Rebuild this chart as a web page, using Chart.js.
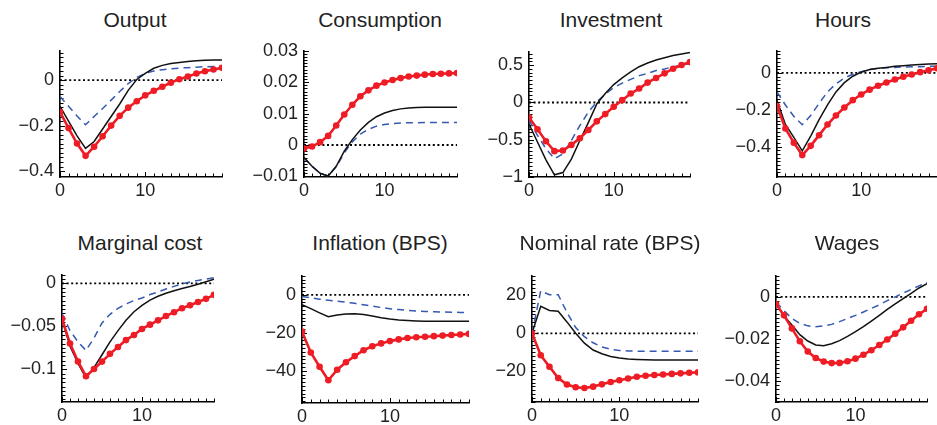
<!DOCTYPE html>
<html>
<head>
<meta charset="utf-8">
<script src="https://cdn.jsdelivr.net/npm/chart.js@4.4.1/dist/chart.umd.min.js"></script>
<style>
  body { margin: 0; background: #fff; width: 937px; height: 425px; position: relative; overflow: hidden; }
  .title { position: absolute; transform: translateX(-50%); white-space: nowrap;
           font: 21px/21px "Liberation Sans", Arial, sans-serif; color: #222; }
</style>
</head>
<body>
<script>
// periods after the shock
const periods = [0, 1, 2, 3, 4, 5, 6, 7, 8, 9, 10, 11, 12, 13, 14, 15, 16, 17, 18, 19];
const xTicks = [0, 10];

// Output
const outputSolid  = [-0.115, -0.18, -0.245, -0.30, -0.27, -0.215, -0.16, -0.105, -0.045, 0.003, 0.03, 0.052, 0.065, 0.073, 0.078, 0.082, 0.085, 0.087, 0.088, 0.089];
const outputDashed = [-0.072, -0.115, -0.158, -0.196, -0.16, -0.125, -0.088, -0.05, -0.015, 0.012, 0.03, 0.04, 0.046, 0.05, 0.053, 0.055, 0.057, 0.059, 0.06, 0.061];
const outputDots   = [-0.14, -0.211, -0.279, -0.333, -0.293, -0.247, -0.2, -0.157, -0.121, -0.093, -0.067, -0.047, -0.029, -0.011, 0.004, 0.016, 0.029, 0.039, 0.047, 0.054];
const outputTicks  = [-0.4, -0.2, 0];

// Consumption
const consumptionSolid  = [-0.004, -0.0068, -0.009, -0.0099, -0.0068, -0.002, 0.0017, 0.0048, 0.0072, 0.009, 0.0102, 0.011, 0.0115, 0.0118, 0.0119, 0.012, 0.012, 0.012, 0.012, 0.012];
const consumptionDashed = [-0.004, -0.0068, -0.009, -0.0099, -0.007, -0.0025, 0.001, 0.0035, 0.005, 0.006, 0.0065, 0.0068, 0.007, 0.0071, 0.0071, 0.0072, 0.0072, 0.0072, 0.0072, 0.0072];
const consumptionDots   = [-0.0011, -0.0005, 0.0009, 0.0029, 0.0062, 0.0097, 0.0128, 0.0155, 0.0174, 0.0189, 0.0199, 0.0207, 0.0213, 0.0218, 0.0221, 0.0224, 0.0226, 0.0227, 0.0228, 0.0229];
const consumptionTicks  = [-0.01, 0, 0.01, 0.02, 0.03];

// Investment
const investmentSolid  = [-0.29, -0.53, -0.77, -0.97, -0.94, -0.76, -0.51, -0.27, -0.02, 0.12, 0.24, 0.33, 0.41, 0.48, 0.53, 0.57, 0.6, 0.63, 0.65, 0.67];
const investmentDashed = [-0.24, -0.44, -0.62, -0.755, -0.69, -0.51, -0.31, -0.13, 0.01, 0.11, 0.2, 0.26, 0.31, 0.36, 0.39, 0.43, 0.45, 0.48, 0.5, 0.52];
const investmentDots   = [-0.2, -0.36, -0.52, -0.653, -0.644, -0.569, -0.48, -0.369, -0.253, -0.156, -0.058, 0.031, 0.12, 0.187, 0.267, 0.329, 0.391, 0.453, 0.502, 0.542];
const investmentTicks  = [-1, -0.5, 0, 0.5];

// Hours
const hoursSolid  = [-0.15, -0.28, -0.35, -0.423, -0.343, -0.254, -0.174, -0.103, -0.053, -0.018, 0.004, 0.018, 0.025, 0.03, 0.036, 0.039, 0.043, 0.046, 0.048, 0.05];
const hoursDashed = [-0.103, -0.174, -0.236, -0.281, -0.231, -0.165, -0.103, -0.059, -0.028, -0.007, 0.007, 0.018, 0.025, 0.028, 0.03, 0.032, 0.034, 0.034, 0.036, 0.036];
const hoursDots   = [-0.18, -0.302, -0.379, -0.446, -0.396, -0.338, -0.28, -0.231, -0.188, -0.148, -0.117, -0.091, -0.07, -0.052, -0.036, -0.021, -0.009, 0.004, 0.014, 0.025];
const hoursTicks  = [-0.4, -0.2, 0];

// Marginal cost
const marginalCostSolid  = [-0.042, -0.073, -0.093, -0.11, -0.098, -0.083, -0.068, -0.055, -0.043, -0.033, -0.0255, -0.0195, -0.015, -0.0115, -0.0085, -0.006, -0.0035, -0.001, 0.002, 0.005];
const marginalCostDashed = [-0.035, -0.055, -0.068, -0.078, -0.0635, -0.046, -0.036, -0.029, -0.024, -0.02, -0.017, -0.013, -0.01, -0.0065, -0.0035, -0.0005, 0.0015, 0.0035, 0.005, 0.0065];
const marginalCostDots   = [-0.041, -0.07, -0.091, -0.108, -0.0996, -0.091, -0.082, -0.074, -0.066, -0.06, -0.053, -0.048, -0.043, -0.038, -0.0335, -0.029, -0.0255, -0.0217, -0.018, -0.0133];
const marginalCostTicks  = [-0.1, -0.05, 0];

// Inflation (BPS)
const inflationSolid  = [-5.2, -7.3, -9.5, -11.6, -10.6, -10.1, -10.0, -10.4, -11.2, -12.1, -12.8, -13.3, -13.6, -13.8, -13.9, -14, -14, -14, -14, -14];
const inflationDashed = [-0.9, -1.6, -2.3, -2.9, -3.4, -3.9, -4.5, -5.3, -6, -6.7, -7.3, -7.8, -8.2, -8.5, -8.8, -9, -9.1, -9.2, -9.3, -9.4];
const inflationDots   = [-19.4, -30.4, -37.9, -45, -39.5, -35.5, -32.3, -29.2, -27.1, -25.6, -24.4, -23.5, -22.8, -22.4, -22.1, -21.8, -21.5, -21.2, -20.9, -20.6];
const inflationTicks  = [-40, -20, 0];

// Nominal rate (BPS)
const nominalRateSolid  = [0, 14.2, 12, 11.6, 6, 0, -5.2, -8.8, -10.8, -12.2, -13, -13.5, -13.8, -14, -14.1, -14.1, -14.1, -14.1, -14.1, -14.1];
const nominalRateDashed = [0, 22.4, 20.3, 20.3, 11, 3, -1.8, -5, -7.2, -8.4, -9, -9.3, -9.4, -9.5, -9.5, -9.5, -9.5, -9.5, -9.5, -9.5];
const nominalRateDots   = [0, -11.6, -17.6, -23.6, -27, -28.4, -28.8, -28.1, -26.9, -25.7, -24.7, -23.8, -22.9, -22.4, -22.0, -21.7, -21.4, -21.1, -20.8, -20.6];
const nominalRateTicks  = [-20, 0, 20];

// Wages
const wagesSolid  = [-0.0034, -0.009, -0.0134, -0.018, -0.021, -0.0229, -0.0232, -0.0223, -0.0208, -0.0188, -0.0165, -0.0142, -0.0115, -0.0088, -0.006, -0.0034, -0.0008, 0.0017, 0.0042, 0.0063];
const wagesDashed = [-0.0026, -0.0065, -0.0103, -0.0126, -0.0138, -0.0142, -0.0138, -0.0131, -0.0118, -0.0103, -0.0088, -0.0072, -0.0055, -0.0038, -0.0018, 0.0, 0.0018, 0.0035, 0.0052, 0.0069];
const wagesDots   = [-0.0034, -0.0088, -0.015, -0.0211, -0.026, -0.0291, -0.0308, -0.0315, -0.0314, -0.0306, -0.0294, -0.0275, -0.0254, -0.0229, -0.0203, -0.0175, -0.0145, -0.0114, -0.0083, -0.0057];
const wagesTicks  = [-0.04, -0.02, 0];

// layout: plot box of each panel in page pixels
const YW = 62, PT = 14, PR = 8, XH = 32;
const panels = [
  {title: 'Output',             tx: 135, ty: 9,   x0: 60,  x1: 222, top: 48,  bottom: 177, min: -0.426, max: 0.129, ticks: outputTicks,       minor: 0.02,  solid: outputSolid,       dashed: outputDashed,       dots: outputDots},
  {title: 'Consumption',        tx: 380, ty: 9,   x0: 304, x1: 457, top: 48,  bottom: 177, min: -0.0102, max: 0.03, ticks: consumptionTicks,  minor: 0.001, solid: consumptionSolid,  dashed: consumptionDashed,  dots: consumptionDots},
  {title: 'Investment',         tx: 611, ty: 9,   x0: 529, x1: 690, top: 49,  bottom: 177, min: -1,     max: 0.68,  ticks: investmentTicks,   minor: 0.05,  solid: investmentSolid,   dashed: investmentDashed,   dots: investmentDots},
  {title: 'Hours',              tx: 843, ty: 9,   x0: 777, x1: 937, top: 48,  bottom: 177, min: -0.565, max: 0.12,  ticks: hoursTicks,        minor: 0.02,  solid: hoursSolid,        dashed: hoursDashed,        dots: hoursDots},
  {title: 'Marginal cost',      tx: 140, ty: 232, x0: 62,  x1: 214, top: 272, bottom: 402, min: -0.138, max: 0.01,  ticks: marginalCostTicks, minor: 0.005, solid: marginalCostSolid, dashed: marginalCostDashed, dots: marginalCostDots},
  {title: 'Inflation (BPS)',    tx: 380, ty: 232, x0: 302, x1: 469, top: 273, bottom: 403, min: -57,    max: 10,    ticks: inflationTicks,    minor: 2,     solid: inflationSolid,    dashed: inflationDashed,    dots: inflationDots},
  {title: 'Nominal rate (BPS)', tx: 610, ty: 232, x0: 532, x1: 698, top: 273, bottom: 402, min: -36.2,  max: 30.3,  ticks: nominalRateTicks,  minor: 2,     solid: nominalRateSolid,  dashed: nominalRateDashed,  dots: nominalRateDots},
  {title: 'Wages',              tx: 847, ty: 232, x0: 776, x1: 927, top: 273, bottom: 402, min: -0.05,  max: 0.01,  ticks: wagesTicks,        minor: 0.002, solid: wagesSolid,        dashed: wagesDashed,        dots: wagesDots}
];

const tickFont = {family: '"Liberation Sans", Arial, sans-serif', size: 18};
const fmt = v => v === 0 ? '0' : (v < 0 ? '\u2212' : '') + Math.abs(v);

// inward minor ticks on both axes plus the dotted zero line
const axisDecor = {
  id: 'axisDecor',
  beforeDatasetsDraw(chart, args, opts) {
    const {ctx, chartArea: a, scales: {x, y}} = chart;
    ctx.save();
    ctx.strokeStyle = '#000';
    ctx.lineWidth = 1;
    ctx.beginPath();
    const k0 = Math.ceil(y.min / opts.minor - 1e-6), k1 = Math.floor(y.max / opts.minor + 1e-6);
    for (let k = k0; k <= k1; k++) {
      const v = k * opts.minor;
      const major = opts.majors.some(m => Math.abs(m - v) < opts.minor / 10);
      const py = Math.round(y.getPixelForValue(v)) + 0.5;
      ctx.moveTo(a.left, py);
      ctx.lineTo(a.left + (major ? 5 : 3.5), py);
    }
    periods.forEach(t => {
      const px = Math.round(x.getPixelForValue(t)) + 0.5;
      ctx.moveTo(px, a.bottom);
      ctx.lineTo(px, a.bottom - (xTicks.includes(t) ? 5 : 3.5));
    });
    ctx.stroke();
    // zero line
    const zy = y.getPixelForValue(0);
    ctx.setLineDash([2, 2.6]);
    ctx.lineWidth = 1.8;
    ctx.beginPath();
    ctx.moveTo(a.left, zy);
    ctx.lineTo(x.getPixelForValue(19), zy);
    ctx.stroke();
    ctx.restore();
  }
};

const pts = vals => periods.map((t, i) => ({x: t, y: vals[i]}));

panels.forEach(p => {
  const w = YW + (p.x1 - p.x0) + PR;
  const h = PT + (p.bottom - p.top) + XH;
  const cv = document.createElement('canvas');
  cv.width = w; cv.height = h;
  cv.style.cssText = `position:absolute;left:${p.x0 - YW}px;top:${p.top - PT}px;width:${w}px;height:${h}px`;
  document.body.appendChild(cv);

  const title = document.createElement('div');
  title.className = 'title';
  title.textContent = p.title;
  title.style.left = p.tx + 'px';
  title.style.top = p.ty + 'px';
  document.body.appendChild(title);

  new Chart(cv, {
    type: 'line',
    data: {
      datasets: [
        {data: pts(p.dots), borderColor: '#ee1c25', backgroundColor: '#ee1c25', borderWidth: 2.6,
         pointRadius: 3.3, pointBorderWidth: 0, tension: 0},
        {data: pts(p.solid), borderColor: '#111', borderWidth: 1.5, pointRadius: 0, tension: 0},
        {data: pts(p.dashed), borderColor: '#3558b0', borderWidth: 1.5, borderDash: [7, 5], pointRadius: 0, tension: 0}
      ]
    },
    options: {
      responsive: false,
      animation: false,
      events: [],
      layout: {padding: {top: PT, right: PR, left: 0, bottom: 0}},
      plugins: {
        legend: {display: false},
        tooltip: {enabled: false},
        axisDecor: {minor: p.minor, majors: p.ticks}
      },
      scales: {
        x: {
          type: 'linear', min: 0, max: 19,
          grid: {display: false, drawTicks: false},
          border: {color: '#000', width: 1.6},
          afterBuildTicks: s => { s.ticks = xTicks.map(v => ({value: v})); },
          afterFit: s => { s.height = XH; },
          ticks: {font: tickFont, color: '#222', padding: 3, maxRotation: 0}
        },
        y: {
          type: 'linear', min: p.min, max: p.max,
          grid: {display: false, drawTicks: false},
          border: {color: '#000', width: 1.6},
          afterBuildTicks: s => { s.ticks = p.ticks.map(v => ({value: v})); },
          afterFit: s => { s.width = YW; },
          ticks: {font: tickFont, color: '#222', padding: 6, callback: fmt}
        }
      }
    },
    plugins: [axisDecor]
  });
});
</script>
</body>
</html>
